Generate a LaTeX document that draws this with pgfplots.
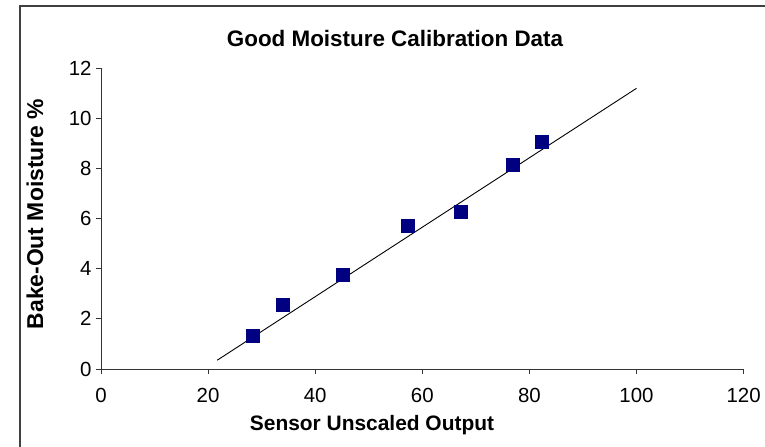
\documentclass[border=0pt]{standalone}
\usepackage{pgfplots}
\pgfplotsset{compat=1.18}
\usepackage{fontspec}
\setmainfont{Liberation Sans}
\definecolor{navyblue}{RGB}{0,0,128}
\begin{document}
\begin{tikzpicture}
\useasboundingbox (-101bp,-78bp) rectangle (664bp,369bp);
\begin{axis}[
  at={(0,0)}, anchor=south west,
  scale only axis, width=642.6bp, height=301bp,
  xmin=0, xmax=120, ymin=0, ymax=12,
  xtick={0,20,...,120}, ytick={0,2,...,12},
  axis x line*=bottom, axis y line*=left,
  axis line style={line width=0.9bp, color=black!80, -},
  tick style={line width=0.9bp, color=black!80},
  tick align=outside, major tick length=5bp,
  /pgf/number format/assume math mode=true,
  ticklabel style={font=\fontsize{20.5}{23}\selectfont},
  xticklabel style={yshift=-11bp},
  yticklabel style={xshift=-1bp},
  clip=false,
]
\addplot[black, line width=0.9bp, no markers] coordinates {(21.7,0.35) (100,11.19)};
\addplot[only marks, mark=square*, mark size=6.5bp, mark options={fill=navyblue, draw=navyblue}] coordinates {
(28.33,1.33) (33.85,2.55) (45.06,3.75) (57.2,5.71) (67.1,6.29) (76.8,8.16) (82.3,9.08)};
\end{axis}
\draw[line width=1.4bp, black!75] (-81bp,-80bp) -- (-81bp,363bp) -- (666bp,363bp);
\node[font=\fontsize{22.5}{26}\selectfont\bfseries] at (294bp,331bp) {Good Moisture Calibration Data};
\node[font=\fontsize{23}{26}\selectfont\bfseries, rotate=90] at (-66bp,155bp) {Bake-Out Moisture \%};
\node[font=\fontsize{21}{24}\selectfont\bfseries] at (271bp,-56bp) {Sensor Unscaled Output};
\end{tikzpicture}
\end{document}
